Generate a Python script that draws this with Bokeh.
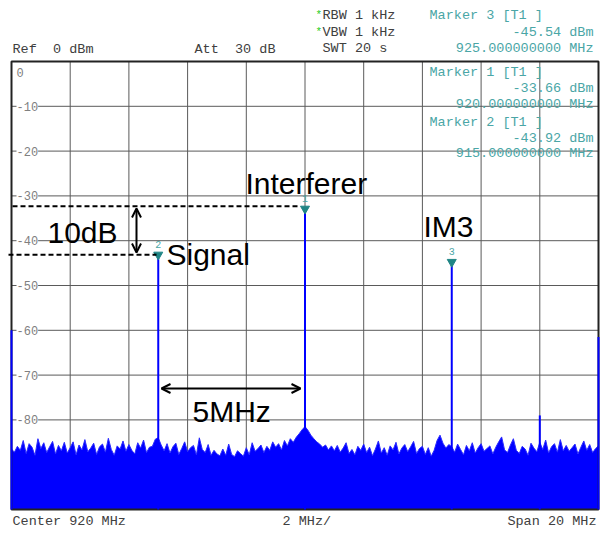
import numpy as np
from bokeh.plotting import figure
from bokeh.models import Range1d, Arrow, OpenHead, Label
from bokeh.embed import file_html
from bokeh.resources import INLINE

# ---------------- data ----------------
freq_start, freq_stop = 910.0, 930.0      # MHz (Center 920, Span 20)
ref_level, bottom_level = 0.0, -100.0     # dBm
x_grid = [910, 912, 914, 916, 918, 920, 922, 924, 926, 928, 930]
y_grid = [0, -10, -20, -30, -40, -50, -60, -70, -80, -90, -100]
y_tick_values = [0, -10, -20, -30, -40, -50, -60, -70, -80]
y_tick_labels = ["0", "-10", "-20", "-30", "-40", "-50", "-60", "-70", "-80"]

# noise floor trace, 0.1 MHz steps from 910 to 930 MHz (dBm)
noise_floor = [
    -86.5, -87.2, -85.9, -86.8, -84.6, -87.5, -85.3, -86.1, -87.9, -84.2,
    -86.4, -85.1, -87.3, -86.0, -84.8, -87.6, -85.7, -86.9, -85.0, -87.4,
    -86.2, -84.9, -87.8, -85.6, -86.7, -84.4, -87.1, -86.3, -85.2, -87.7,
    -86.0, -85.4, -87.2, -84.1, -86.6, -87.9, -85.8, -86.5, -84.7, -87.0,
    -85.5, -86.8, -87.6, -85.1, -86.3, -84.5, -87.3, -86.1, -85.9, -84.3,
    -84.0, -85.6, -86.9, -85.3, -87.4, -86.0, -85.2, -87.7, -86.4, -84.9,
    -87.1, -86.2, -85.7, -87.8, -84.0, -86.6, -87.3, -85.5, -87.9, -86.8,
    -87.6, -88.0, -86.5, -87.9, -85.4, -87.7, -88.2, -86.9, -87.5, -88.1,
    -86.2, -87.8, -85.1, -87.0, -86.4, -85.6, -87.3, -85.9, -86.8, -84.9,
    -86.1, -85.3, -86.7, -84.6, -85.8, -84.2, -85.0, -83.9, -83.1, -82.2,
    -81.5,
    -82.3, -83.4, -84.2, -84.9, -85.4, -86.1, -85.6, -86.7, -85.8,
    -86.9, -85.7, -87.2, -86.3, -85.1, -87.5, -86.6, -87.8, -85.9, -86.8,
    -85.4, -87.3, -86.1, -88.0, -86.5, -84.7, -87.4, -86.2, -87.9, -85.8,
    -86.7, -85.0, -87.6, -86.3, -85.5, -87.1, -86.0, -84.8, -87.5, -86.4,
    -85.9, -87.7, -86.2, -88.1, -86.8, -84.6, -83.4, -85.2, -86.3, -85.5,
    -86.0, -87.2, -85.4, -86.6, -87.8, -85.7, -86.9, -85.1, -87.4, -86.2,
    -85.3, -87.0, -86.4, -85.8, -87.6, -86.1, -84.9, -83.8, -86.7, -87.3,
    -85.6, -84.2, -86.8, -87.5, -85.9, -86.5, -87.9, -85.2, -86.3, -87.1,
    -85.0, -86.6, -84.5, -87.4, -86.0, -85.3, -87.2, -84.4, -86.9, -85.7,
    -87.0, -86.2, -85.4, -87.6, -86.1, -84.7, -86.8, -85.5, -87.3, -86.4, -85.8,
]

# discrete tones (MHz, dBm)
spike_freqs = [910.0, 915.0, 920.0, 925.0, 928.0, 930.0]
spike_levels = [-60.0, -43.92, -33.66, -45.54, -79.0, -61.5]

# markers
marker_ids = ["1", "2", "3"]
marker_freqs = [920.0, 915.0, 925.0]
marker_levels = [-33.66, -43.92, -45.54]

# ---------------- layout helpers (pixel -> data) ----------------
W, H = 603, 534
L, R, T, B = 11, 598, 61, 509
xs = (R - L) / (freq_stop - freq_start)
ys = (B - T) / (ref_level - bottom_level)
NB = "\u00a0"


def X(px):
    return freq_start + (px - L) / xs


def Y(py):
    return ref_level - (py - T) / ys


p = figure(width=W, height=H, x_range=Range1d(X(0), X(W)), y_range=Range1d(Y(H), Y(0)),
           output_backend="svg", toolbar_location=None,
           x_axis_location=None, y_axis_location=None, min_border=0)
p.min_border_left = p.min_border_right = p.min_border_top = p.min_border_bottom = 0
p.outline_line_color = None
p.background_fill_color = "white"
p.border_fill_color = "white"
for g in p.grid:
    g.visible = False

GRID = "#5a5a5a"
TEAL_TXT = "#4aa6a6"
TEAL_MK = "#1f8585"
HDR = "#404040"
MONO = "Liberation Mono"
SANS = "Liberation Sans"

# grid
p.segment(x0=x_grid, y0=[bottom_level] * len(x_grid), x1=x_grid, y1=[ref_level] * len(x_grid),
          line_color=GRID, line_width=1)
p.segment(x0=[freq_start] * len(y_grid), y0=y_grid, x1=[freq_stop] * len(y_grid), y1=y_grid,
          line_color=GRID, line_width=1)

# noise trace
fx = np.linspace(freq_start, freq_stop, len(noise_floor))
p.varea(x=fx, y1=bottom_level, y2=noise_floor, fill_color="#0000ff")
p.line(fx, noise_floor, line_color="#2a2aff", line_width=1)

# frame
p.quad(left=[freq_start], right=[freq_stop], top=[ref_level], bottom=[bottom_level],
       fill_color=None, line_color="#222222", line_width=2)

# tones
p.segment(x0=spike_freqs, y0=[bottom_level] * len(spike_freqs), x1=spike_freqs, y1=spike_levels,
          line_color="#0000ff", line_width=2)

# markers
p.scatter(x=marker_freqs, y=[lv + 3.5 / ys for lv in marker_levels], marker="inverted_triangle",
          size=9, fill_color=TEAL_MK, line_color=TEAL_MK)
for mid, mf, ml in zip(marker_ids, marker_freqs, marker_levels):
    p.add_layout(Label(x=mf, y=ml + 14 / ys, text=mid, text_font=MONO, text_font_size="10px",
                       text_color=TEAL_TXT, text_align="center", text_baseline="middle"))


def txt(s, px, py, color=HDR, align="left", size="13.5px", font=MONO, baseline="middle", bg=None):
    kw = {}
    if bg is not None:
        kw = dict(background_fill_color=bg, background_fill_alpha=1.0)
    p.add_layout(Label(x=X(px), y=Y(py), text=s.replace(" ", NB), text_font=font,
                       text_font_size=size, text_color=color, text_align=align,
                       text_baseline=baseline, **kw))


# y tick labels
for v, s in zip(y_tick_values, y_tick_labels):
    if v == 0:
        txt(s, 16, 72, color="#808080", size="12px")
    else:
        txt(s, 16, T + (ref_level - v) * ys, color="#808080", size="12px", bg="white")

# header
txt("Ref  0 dBm", 12, 49)
txt("Att  30 dB", 194, 49)
txt("*", 315, 14, color="#22cc22", size="11px")
txt("*", 315, 31, color="#22cc22", size="11px")
txt("RBW 1 kHz", 322, 15)
txt("VBW 1 kHz", 322, 32)
txt("SWT 20 s", 322, 48)

# marker readouts
m3 = 2
txt("Marker 3 [T1 ]", 429, 15, color=TEAL_TXT)
txt(f"{marker_levels[m3]:.2f} dBm", 593, 32, color=TEAL_TXT, align="right")
txt(f"{marker_freqs[m3]:.9f} MHz", 593, 48, color=TEAL_TXT, align="right")
txt("Marker 1 [T1 ]", 429, 72, color=TEAL_TXT)
txt(f"{marker_levels[0]:.2f} dBm", 593, 88, color=TEAL_TXT, align="right")
txt(f"{marker_freqs[0]:.9f} MHz", 593, 104, color=TEAL_TXT, align="right")
txt("Marker 2 [T1 ]", 429, 122, color=TEAL_TXT)
txt(f"{marker_levels[1]:.2f} dBm", 593, 138, color=TEAL_TXT, align="right")
txt(f"{marker_freqs[1]:.9f} MHz", 593, 153, color=TEAL_TXT, align="right")

# footer
txt("Center 920 MHz", 12, 521)
txt("2 MHz/", 282, 521)
txt("Span 20 MHz", 596, 521, align="right")

# ---------------- annotations ----------------
p.line([X(12), X(300)], [Y(205.7)] * 2, line_color="black", line_width=2, line_dash="5 3")
p.line([X(8), X(156)], [Y(254.3)] * 2, line_color="black", line_width=2, line_dash="5 3")
p.add_layout(Arrow(start=OpenHead(size=9, line_width=2), end=OpenHead(size=9, line_width=2),
                   x_start=X(136), y_start=Y(208), x_end=X(136), y_end=Y(252),
                   line_color="black", line_width=2))
p.add_layout(Arrow(start=OpenHead(size=9, line_width=2), end=OpenHead(size=9, line_width=2),
                   x_start=X(161), y_start=Y(388), x_end=X(300), y_end=Y(388),
                   line_color="black", line_width=2))

SH = 10  # baseline correction for Label rendering
txt("10dB", 47, 241.5 - SH, color="black", size="30px", font=SANS, baseline="alphabetic")
txt("Signal", 166, 264 - SH, color="black", size="30px", font=SANS, baseline="alphabetic")
txt("Interferer", 245, 193 - SH, color="black", size="30px", font=SANS, baseline="alphabetic")
txt("IM3", 423, 236 - SH, color="black", size="30px", font=SANS, baseline="alphabetic")
txt("5MHz", 192, 421 - SH, color="black", size="30px", font=SANS, baseline="alphabetic")

open("out.html", "w").write(file_html(p, INLINE))
